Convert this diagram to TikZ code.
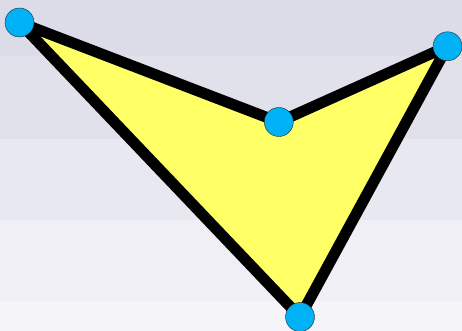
\documentclass[tikz,border=0pt]{standalone}
\usepackage{tikz}
\usetikzlibrary{positioning, backgrounds}

\definecolor{bandA}{HTML}{DCDCE9}
\definecolor{bandB}{HTML}{E1E1EC}
\definecolor{bandC}{HTML}{E8E8F1}
\definecolor{bandD}{HTML}{EFEFF5}
\definecolor{bandE}{HTML}{F5F5F9}
\definecolor{polyfill}{HTML}{FFFF66}
\definecolor{vtxfill}{HTML}{00B2F5}

\begin{document}
\begin{tikzpicture}[
            x=1pt, y=-1pt,
            vtx/.style  ={circle, draw=black!85, thin, fill=vtxfill,
                    minimum size=29pt, inner sep=0pt},
            edge/.style ={draw=black, line width=11pt, line join=round,
                    fill=polyfill}
        ]

        % background bands, top to bottom
        \fill[bandA] (0,0)   rectangle (462,56);
        \fill[bandB] (0,56)  rectangle (462,139);
        \fill[bandC] (0,139) rectangle (462,220);
        \fill[bandD] (0,220) rectangle (462,301);
        \fill[bandE] (0,301) rectangle (462,331);
        \useasboundingbox (0,0) rectangle (462,331);

        %% --- corners of the shape ---
        \coordinate (pa) at (19.5,22.5);
        \coordinate (pb) at (278.8,122);
        \coordinate (pc) at (447.5,46.3);
        \coordinate (pd) at (300,317);

        %% --- filled outline ---
        \path[edge] (pa) -- (pb) -- (pc) -- (pd) -- cycle;

        %% --- vertex markers ---
        \node[vtx] (va) at (pa) {};
        \node[vtx] (vb) at (pb) {};
        \node[vtx] (vc) at (pc) {};
        \node[vtx] (vd) at (pd) {};

    \end{tikzpicture}
\end{document}
